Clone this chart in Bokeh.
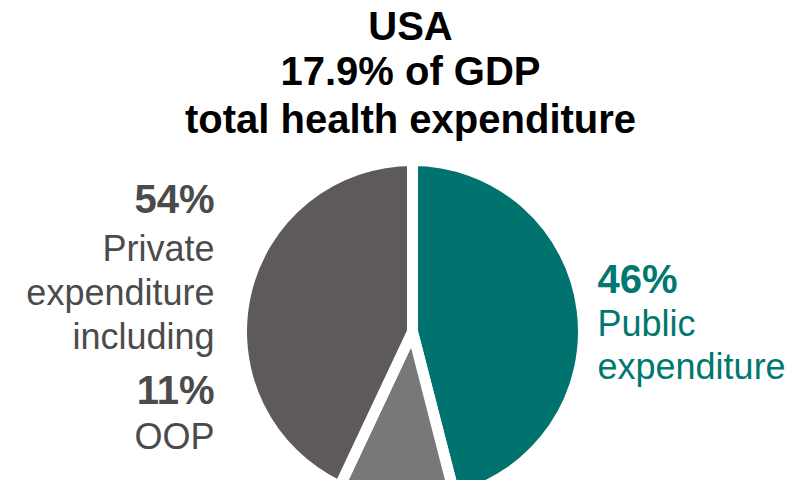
from math import pi
from bokeh.plotting import figure
from bokeh.models import Range1d, ColumnDataSource
from bokeh.core.properties import value
from bokeh.embed import file_html
from bokeh.resources import INLINE

# ---- data ----
title_lines = ["USA", "17.9% of GDP", "total health expenditure"]
categories = ["Public expenditure", "OOP", "Other private expenditure"]
shares = [46, 11, 43]                      # percent of total health expenditure
colors = ["#00736F", "#787878", "#5D595D"]
private_total = 54
left_lines = ["54%", "Private", "expenditure", "including", "11%", "OOP"]
left_bold = [True, False, False, False, True, False]
right_lines = ["46%", "Public", "expenditure"]
right_bold = [True, False, False]

# ---- layout (page-pixel coordinates, y measured from top) ----
W, H = 790, 480
REF_H = 496
def Y(y):
    return REF_H - y

cx, cy, r = 412, 331, 171

p = figure(width=W, height=H, output_backend="svg", toolbar_location=None,
           x_range=Range1d(0, W), y_range=Range1d(REF_H - H, REF_H),
           min_border=0, background_fill_color="white", border_fill_color="white")
p.axis.visible = False
p.grid.visible = False
p.outline_line_color = None

# wedges: public clockwise from 12 o'clock, then OOP, then remaining private
starts, ends = [], []
angle = 90.0
for s in shares:
    end = angle
    start = angle - s * 3.6
    starts.append(start * pi / 180)
    ends.append(end * pi / 180)
    angle = start

src = ColumnDataSource(dict(start=starts, end=ends, color=colors, cat=categories))
p.wedge(x=cx, y=Y(cy), radius=r, start_angle="start", end_angle="end",
        fill_color="color", line_color="white", line_width=11, source=src)

font = value("Liberation Sans")
TXT_DY = 14  # compensation so that the baseline lands where measured

# title
title_base = [39, 84, 132]
p.text(x=[410] * 3, y=[Y(b - TXT_DY) for b in title_base], text=title_lines,
       text_font=font, text_font_size="40px", text_font_style="bold",
       text_color="#000000", text_align="center", text_baseline="alphabetic")

# left labels
left_base = [212, 262, 306, 350, 403, 450]
for t, b, bold in zip(left_lines, left_base, left_bold):
    p.text(x=[214], y=[Y(b - TXT_DY)], text=[t], text_font=font,
           text_font_size="40px" if bold else "36px",
           text_font_style="bold" if bold else "normal",
           text_color="#4B4B4B", text_align="right", text_baseline="alphabetic")

# right labels
right_base = [292, 337, 380]
for t, b, bold in zip(right_lines, right_base, right_bold):
    p.text(x=[597], y=[Y(b - TXT_DY)], text=[t], text_font=font,
           text_font_size="40px" if bold else "36px",
           text_font_style="bold" if bold else "normal",
           text_color="#00786F", text_align="left", text_baseline="alphabetic")

open("out.html", "w").write(file_html(p, INLINE))
